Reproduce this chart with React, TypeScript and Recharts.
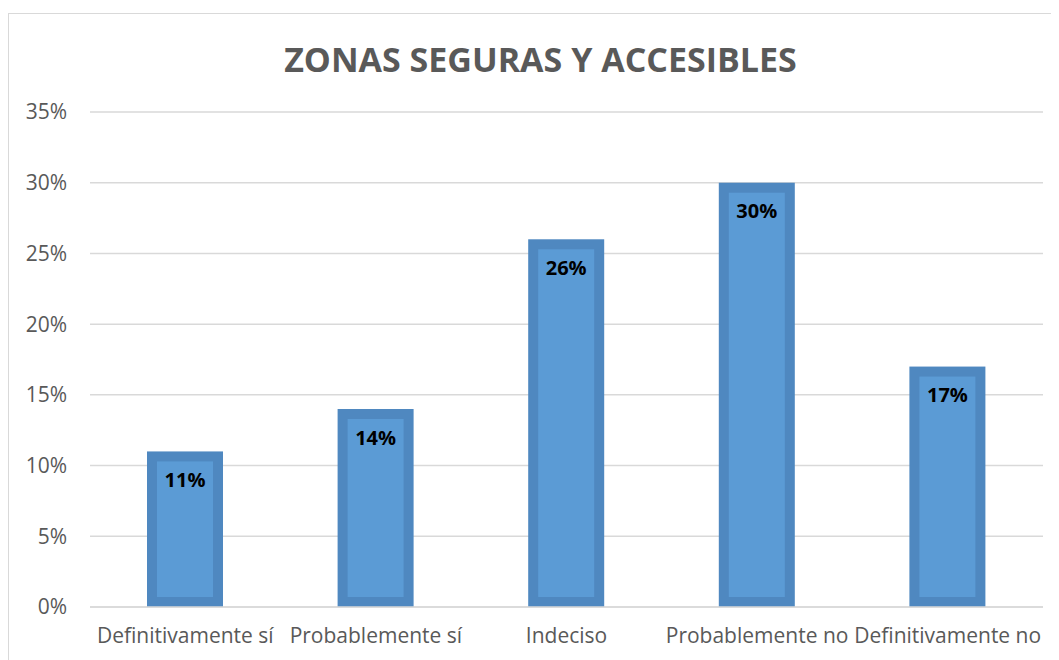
import { BarChart, Bar, XAxis, YAxis, CartesianGrid, LabelList } from 'recharts';

// ── Data ──────────────────────────────────────────────────────────────────────

const CATEGORIES = [
  'Definitivamente sí',
  'Probablemente sí',
  'Indeciso',
  'Probablemente no',
  'Definitivamente no',
];

const VALUES = [0.11, 0.14, 0.26, 0.30, 0.17];

const Y_TICKS = [0, 0.05, 0.1, 0.15, 0.2, 0.25, 0.3, 0.35];

const TITLE = 'ZONAS SEGURAS Y ACCESIBLES';

const data = CATEGORIES.map((name, i) => ({ name, value: VALUES[i] }));

// ── Styles ────────────────────────────────────────────────────────────────────

const FONT = '"Open Sans", sans-serif';
const BORDER_BLUE = '#4F88C0';
const FILL_BLUE = '#5B9BD5';
const GRID = '#D9D9D9';
const TEXT_GREY = '#595959';

const pct = (v: number) => `${Math.round(v * 100)}%`;

// Excel-style bar: darker frame with lighter inner panel
function FramedBar(props: any) {
  const { x, y, width, height } = props;
  if (!height || height <= 0) return null;
  const inset = 10;
  return (
    <g>
      <rect x={x} y={y} width={width} height={height} fill={BORDER_BLUE} />
      <rect
        x={x + inset}
        y={y + inset}
        width={Math.max(0, width - inset * 2)}
        height={Math.max(0, height - inset * 2)}
        fill={FILL_BLUE}
      />
    </g>
  );
}

function ValueLabel(props: any) {
  const { x, y, width, value } = props;
  return (
    <text
      x={x + width / 2}
      y={y + 28}
      textAnchor="middle"
      dominantBaseline="central"
      fontFamily={FONT}
      fontWeight={700}
      fontSize={20}
      fill="#000000"
    >
      {pct(value)}
    </text>
  );
}

export default function App() {
  return (
    <div
      style={{
        position: 'relative',
        marginTop: 5,
        width: 1060,
        height: 660,
        border: `1px solid ${GRID}`,
        boxSizing: 'border-box',
        background: '#FFFFFF',
        fontFamily: FONT,
      }}
    >
      <div
        style={{
          position: 'absolute',
          left: 0,
          top: 23,
          width: 1063,
          textAlign: 'center',
          fontSize: 34,
          fontWeight: 700,
          color: TEXT_GREY,
          lineHeight: '44px',
        }}
      >
        {TITLE}
      </div>
      <div style={{ position: 'absolute', left: 0, top: 0 }}>
        <BarChart
          width={1051}
          height={646}
          data={data}
          barCategoryGap="30%"
          margin={{ top: 98, right: 17, left: 21, bottom: 0 }}
        >
          <CartesianGrid stroke={GRID} strokeWidth={1.5} vertical={false} />
          <XAxis
            dataKey="name"
            interval={0}
            height={53}
            tickLine={false}
            tickSize={0}
            tickMargin={21}
            axisLine={{ stroke: GRID, strokeWidth: 1.5 }}
            tick={{ fontSize: 21, fill: TEXT_GREY, fontFamily: FONT }}
          />
          <YAxis
            domain={[0, 0.35]}
            ticks={Y_TICKS}
            width={60}
            tickFormatter={pct}
            axisLine={false}
            tickLine={false}
            tickSize={0}
            tickMargin={23}
            tick={{ fontSize: 21, fill: TEXT_GREY, fontFamily: FONT }}
          />
          <Bar
            dataKey="value"
            shape={<FramedBar />}
            barSize={76}
            isAnimationActive={false}
          >
            <LabelList dataKey="value" content={<ValueLabel />} />
          </Bar>
        </BarChart>
      </div>
    </div>
  );
}
